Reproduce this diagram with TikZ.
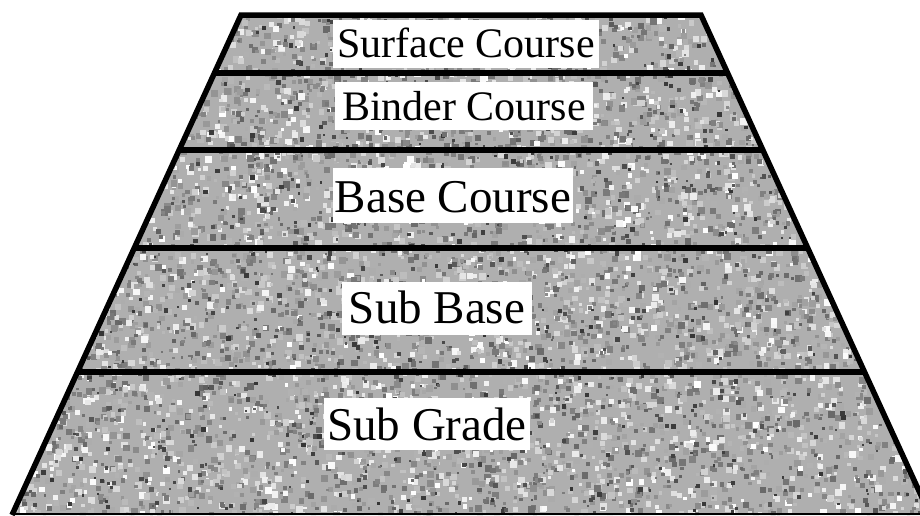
\documentclass[tikz,border=0pt]{standalone}
\usepackage{fontspec}
\setmainfont{Liberation Serif}
\usetikzlibrary{calc}
\definecolor{stonebase}{RGB}{175,175,175}
\begin{document}
\begin{tikzpicture}[x=1pt,y=-1pt,
  edge/.style={line width=5.5pt,black,line join=miter},
  sep/.style={line width=5.5pt,black},
  lbl/.style={fill=white,text=black,anchor=base,inner ysep=0pt}]
\useasboundingbox (0,0) rectangle (920,515);
\clip (0,0) rectangle (920,515);
\coordinate (TL) at (241,15);
\coordinate (TR) at (701,15);
\coordinate (BL) at (12,515);
\coordinate (BR) at (930,515);
\begin{scope}
  \clip (TL) -- (TR) -- (BR) -- (BL) -- cycle;
  \fill[stonebase] (0,0) rectangle (920,520);
  \pgfmathsetseed{11}
  \foreach \i in {1,...,7000}{
    \pgfmathtruncatemacro\c{rnd*60}
    \pgfmathsetmacro\s{3+rnd*4}
    \fill[black!\c] ({rnd*920},{12+rnd*508}) rectangle ++(\s,\s);
  }
  \foreach \i in {1,...,2000}{
    \pgfmathtruncatemacro\c{45+rnd*35}
    \pgfmathsetmacro\s{2+rnd*3}
    \fill[black!\c] ({rnd*920},{12+rnd*508}) rectangle ++(\s,\s);
  }
\end{scope}
% layer separators
\foreach \n/\y in {1/73,2/150,3/248,4/372}{
  \pgfmathsetmacro\t{(\y-15)/500}
  \coordinate (L\n) at ($(TL)!\t!(BL)$);
  \coordinate (R\n) at ($(TR)!\t!(BR)$);
  \draw[sep] (L\n) -- (R\n);
}
\draw[edge] (BL) -- (TL) -- (TR) -- (BR);
\draw[line width=2pt] ($(BL)+(0,-1)$) -- ($(BR)+(0,-1)$);
% labels
\node[lbl,font=\fontsize{42}{42}\selectfont,text height=37pt,text depth=11pt,inner xsep=4.5pt] (surface) at (466,57) {Surface Course};
\node[lbl,font=\fontsize{42}{42}\selectfont,text height=38pt,text depth=10pt,inner xsep=7.5pt] (binder) at (464,120) {Binder Course};
\node[lbl,font=\fontsize{47}{47}\selectfont,text height=44pt,text depth=11pt,inner xsep=1.5pt] (base) at (453,212) {Base Course};
\node[lbl,font=\fontsize{47}{47}\selectfont,text height=41pt,text depth=12pt,inner xsep=7pt] (subbase) at (437,323) {Sub Base};
\node[lbl,font=\fontsize{47}{47}\selectfont,text height=42pt,text depth=10pt,inner xsep=3pt] (subgrade) at (427,440) {Sub Grade};
\end{tikzpicture}
\end{document}
